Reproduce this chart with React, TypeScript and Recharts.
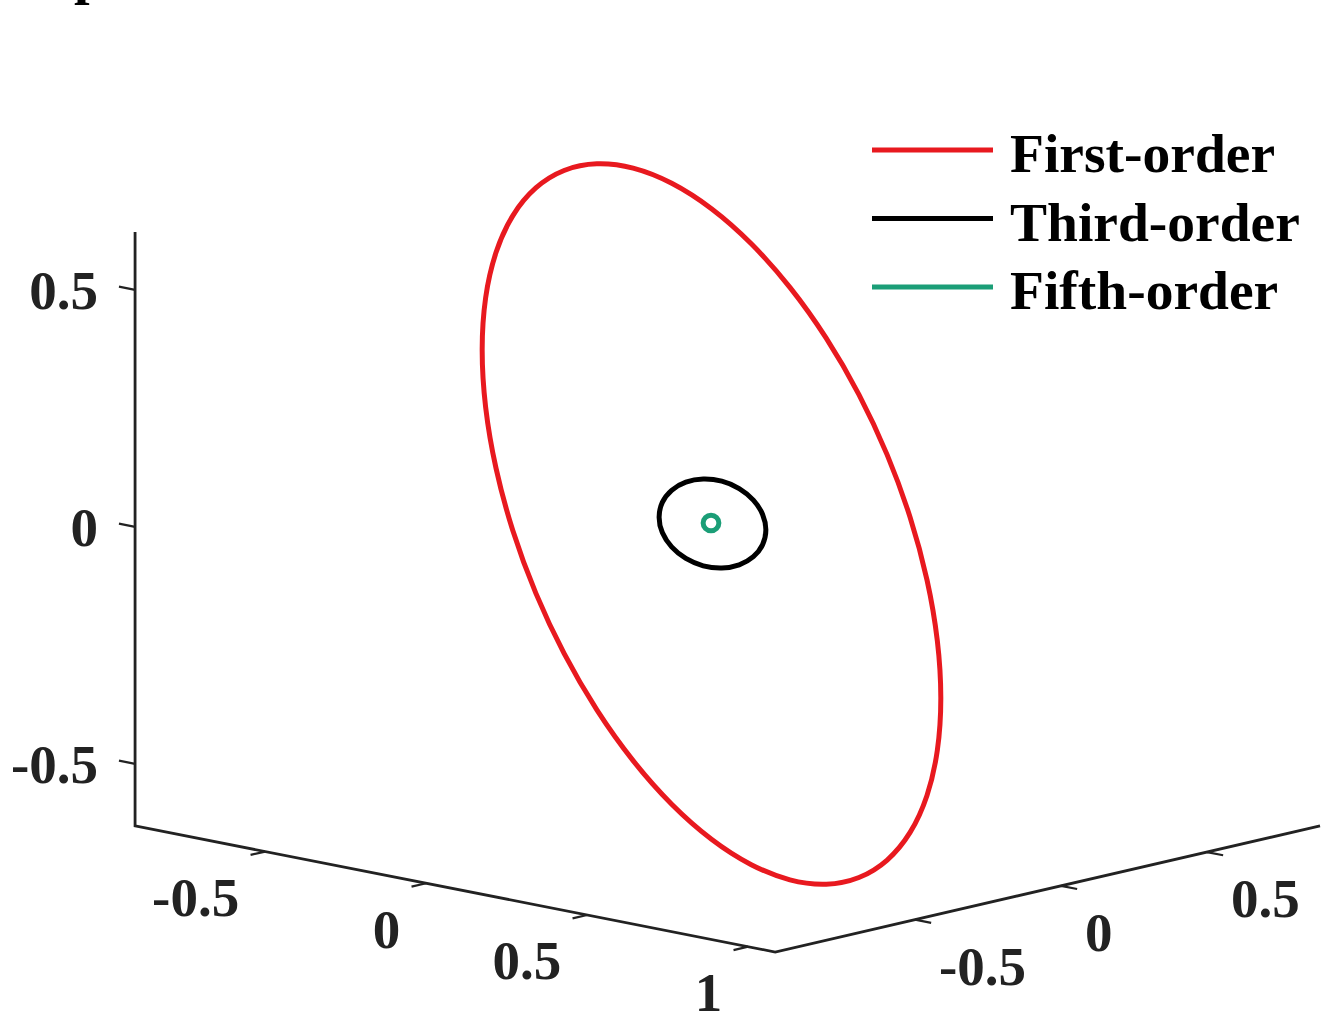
import React from 'react';
import { ScatterChart, Scatter, XAxis, YAxis, ReferenceLine, Legend } from 'recharts';

const WIDTH = 1322;
const HEIGHT = 1017;

// view plane: one z unit = 474 px, same scale horizontally, origin at projected (0,0,0)
const UNIT = 474;
const ORIGIN_X = 712;
const ORIGIN_Y = 518;
const H_DOMAIN: [number, number] = [-ORIGIN_X / UNIT, (WIDTH - ORIGIN_X) / UNIT];
const V_DOMAIN: [number, number] = [-(HEIGHT - ORIGIN_Y) / UNIT, ORIGIN_Y / UNIT];

// 3-D box limits and ticks
const X_LIM = [-0.904, 1.084];
const Y_LIM = [-0.979, 0.887];
const Z_LIM = [-0.631, 0.622];
const xTicks = [-0.5, 0, 0.5, 1];
const yTicks = [-0.5, 0, 0.5];
const zTicks = [-0.5, 0, 0.5];
const TICK_LEN = 0.05;

// where the unit vectors of x, y, z land on the view plane
const EX = [0.6793, -0.1338];
const EY = [0.616, 0.1426];
const EZ = [0, 1];

const project = (x: number, y: number, z: number) => ({
  h: x * EX[0] + y * EY[0] + z * EZ[0],
  v: x * EX[1] + y * EY[1] + z * EZ[1],
});

// curves on the view plane, [h, v]
const firstOrder = [
  [0.4852, -0.3821], [0.4778, -0.4924], [0.4559, -0.5882], [0.42, -0.6667],
  [0.3715, -0.7251], [0.3116, -0.7622], [0.2422, -0.7764], [0.1652, -0.7671],
  [0.0833, -0.735], [-0.0011, -0.681], [-0.0854, -0.6068], [-0.1673, -0.5143],
  [-0.2441, -0.4068], [-0.3137, -0.2871], [-0.3736, -0.1593], [-0.4222, -0.027],
  [-0.458, 0.1059], [-0.48, 0.235], [-0.4873, 0.3568], [-0.48, 0.4671],
  [-0.458, 0.5629], [-0.4222, 0.6414], [-0.3736, 0.6998], [-0.3137, 0.7369],
  [-0.2441, 0.7511], [-0.1673, 0.7418], [-0.0854, 0.7097], [-0.0011, 0.6557],
  [0.0833, 0.5814], [0.1652, 0.489], [0.2422, 0.3814], [0.3116, 0.2618],
  [0.3715, 0.134], [0.42, 0.0017], [0.4559, -0.1312], [0.4778, -0.2603],
];

const thirdOrder = [
  [0.116, -0.0253], [0.1089, -0.057], [0.089, -0.0831], [0.0586, -0.1006],
  [0.0211, -0.1074], [-0.019, -0.1027], [-0.0563, -0.0869], [-0.0869, -0.062],
  [-0.107, -0.0312], [-0.1139, 0.0021], [-0.107, 0.0338], [-0.0869, 0.0599],
  [-0.0563, 0.0774], [-0.019, 0.0842], [0.0211, 0.0795], [0.0586, 0.0637],
  [0.089, 0.0388], [0.1089, 0.008],
];

const fifthOrder = [
  [-0.0021, 0.0078], [0.0109, 0.0024], [0.0163, -0.0105], [0.0109, -0.0235],
  [-0.0021, -0.0289], [-0.0151, -0.0235], [-0.0205, -0.0105], [-0.0151, 0.0024],
];

const series = [
  { name: 'First-order', color: '#E8191F', width: 5, points: firstOrder },
  { name: 'Third-order', color: '#000000', width: 5, points: thirdOrder },
  { name: 'Fifth-order', color: '#1B9E77', width: 5, points: fifthOrder },
];

const AXIS_COLOR = '#222222';
const FONT = '"Liberation Serif", "Times New Roman", serif';

const fmt = (t: number) => String(t);

const boxLine = [
  project(X_LIM[0], Y_LIM[0], Z_LIM[1]),
  project(X_LIM[0], Y_LIM[0], Z_LIM[0]),
  project(X_LIM[1], Y_LIM[0], Z_LIM[0]),
  project(X_LIM[1], Y_LIM[1], Z_LIM[0]),
];

const tickSegments = [
  ...zTicks.map((t) => [project(X_LIM[0], Y_LIM[0], t), project(X_LIM[0] - TICK_LEN, Y_LIM[0], t)]),
  ...xTicks.map((t) => [project(t, Y_LIM[0], Z_LIM[0]), project(t, Y_LIM[0] - TICK_LEN, Z_LIM[0])]),
  ...yTicks.map((t) => [project(X_LIM[1], t, Z_LIM[0]), project(X_LIM[1] + TICK_LEN, t, Z_LIM[0])]),
];

const zLabels = zTicks.map((t) => ({ ...project(X_LIM[0], Y_LIM[0], t), label: fmt(t) }));
const xLabels = xTicks.map((t) => ({ ...project(t, Y_LIM[0], Z_LIM[0]), label: fmt(t) }));
const yLabels = yTicks.map((t) => ({ ...project(X_LIM[1], t, Z_LIM[0]), label: fmt(t) }));

const NoDot = () => <g />;

const tickText = (dx: number, dy: number, anchor: 'start' | 'end') => (p: any) => (
  <text
    x={p.cx + dx}
    y={p.cy + dy}
    dy="0.35em"
    textAnchor={anchor}
    fontFamily={FONT}
    fontWeight="bold"
    fontSize={55}
    fill={AXIS_COLOR}
  >
    {p.payload.label}
  </text>
);

// legend rows follow the series order
const renderLegend = () => (
  <svg width={450} height={215}>
    {series.map((s, i) => (
      <g key={s.name} transform={`translate(0, ${i * 68.5})`}>
        <line x1={4} x2={125} y1={32} y2={32} stroke={s.color} strokeWidth={5} />
        <text x={142} y={54} fontFamily={FONT} fontWeight="bold" fontSize={55.5} fill="#000">
          {s.name}
        </text>
      </g>
    ))}
  </svg>
);

const App: React.FC = () => {
  return (
    <div style={{ position: 'absolute', left: 0, top: 0, width: WIDTH, height: HEIGHT, background: '#fff' }}>
      <svg width={120} height={20} style={{ position: 'absolute', left: 0, top: 0 }}>
        <text x={74} y={-7} fontFamily={FONT} fontWeight="bold" fontSize={56} fill="#000">p</text>
      </svg>
      <ScatterChart width={WIDTH} height={HEIGHT} margin={{ top: 0, right: 0, bottom: 0, left: 0 }}>
        <XAxis type="number" dataKey="h" domain={H_DOMAIN} allowDataOverflow hide />
        <YAxis type="number" dataKey="v" domain={V_DOMAIN} allowDataOverflow hide />

        {/* box edges */}
        <Scatter
          data={boxLine}
          fill={AXIS_COLOR}
          line={{ stroke: AXIS_COLOR, strokeWidth: 2.8 }}
          lineJointType="linear"
          shape={NoDot}
          legendType="none"
          isAnimationActive={false}
        />
        {tickSegments.map((seg, i) => (
          <ReferenceLine
            key={`tick-${i}`}
            segment={[{ x: seg[0].h, y: seg[0].v }, { x: seg[1].h, y: seg[1].v }]}
            stroke={AXIS_COLOR}
            strokeWidth={2.2}
            ifOverflow="visible"
          />
        ))}
        <Scatter data={zLabels} shape={tickText(-37, 0, 'end')} legendType="none" isAnimationActive={false} />
        <Scatter data={xLabels} shape={tickText(-26, 45, 'end')} legendType="none" isAnimationActive={false} />
        <Scatter data={yLabels} shape={tickText(24, 46, 'start')} legendType="none" isAnimationActive={false} />

        {series.map((s) => (
          <Scatter
            key={s.name}
            name={s.name}
            data={s.points.map(([h, v]) => ({ h, v }))}
            fill={s.color}
            line={{ stroke: s.color, strokeWidth: s.width, fill: 'none' }}
            lineJointType="basisClosed"
            shape={NoDot}
            legendType="line"
            isAnimationActive={false}
          />
        ))}

        <Legend
          layout="vertical"
          align="center"
          verticalAlign="middle"
          content={renderLegend}
          wrapperStyle={{ position: 'absolute', left: 868, top: 118, width: 450, height: 215 }}
        />
      </ScatterChart>
    </div>
  );
};

export default App;
